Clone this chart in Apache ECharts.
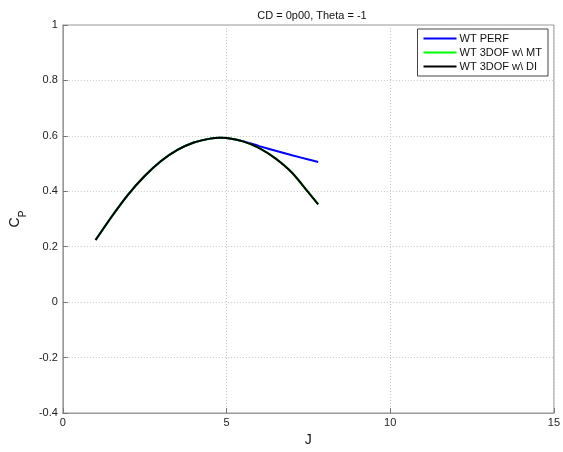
<!DOCTYPE html>
<html>
<head>
    <meta charset="utf-8">
    <title>CD = 0p00, Theta = -1</title>
    <script src="https://cdn.jsdelivr.net/npm/echarts@6/dist/echarts.min.js"></script>
    <style>
        html, body { margin: 0; padding: 0; background: #fff; }
        #chart1 { width: 563px; height: 452px; }
    </style>
</head>
<body>
<div id="chart1"></div>
<script>
    // J 值 (advance ratio)
    var jValues = [1.0, 1.5, 2.0, 2.5, 3.0, 3.5, 4.0, 4.5, 4.8, 5.0, 5.5, 6.0, 6.5, 7.0, 7.5, 7.8];
    // 三条曲线的 Cp
    var cpPerf = [0.224, 0.310, 0.389, 0.455, 0.509, 0.549, 0.576, 0.590, 0.593, 0.592, 0.581, 0.563, 0.546, 0.530, 0.515, 0.506];
    var cpMt   = [0.224, 0.310, 0.389, 0.455, 0.509, 0.549, 0.576, 0.590, 0.593, 0.592, 0.580, 0.556, 0.519, 0.468, 0.397, 0.354];
    var cpDi   = [0.224, 0.310, 0.389, 0.455, 0.509, 0.549, 0.576, 0.590, 0.593, 0.592, 0.580, 0.556, 0.518, 0.467, 0.396, 0.353];
    var seriesNames = ['WT PERF', 'WT 3DOF w\\ MT', 'WT 3DOF w\\ DI'];
    var seriesColors = ['#0000ff', '#00ff00', '#000000'];
    var xTicks = [0, 5, 10, 15];
    var yTicks = [-0.4, -0.2, 0, 0.2, 0.4, 0.6, 0.8, 1];

    function pairs(ys) {
        return jValues.map(function (x, i) { return [x, ys[i]]; });
    }

    var font = 'Liberation Sans, Arial, sans-serif';
    var myChart1 = echarts.init(document.getElementById('chart1'));
    var allCp = [cpPerf, cpMt, cpDi];

    myChart1.setOption({
        animation: false,
        title: {
            text: 'CD = 0p00, Theta = -1',
            left: 307,
            textAlign: 'center',
            top: 5,
            textStyle: { fontFamily: font, fontSize: 11, fontWeight: 'normal', color: '#111' }
        },
        legend: {
            orient: 'vertical',
            right: 15,
            top: 29,
            padding: [4, 6, 4, 6],
            itemGap: 3,
            itemWidth: 33,
            itemHeight: 2,
            icon: 'rect',
            borderColor: '#444',
            borderWidth: 1,
            backgroundColor: '#fff',
            textStyle: { fontFamily: font, fontSize: 11, color: '#111', padding: [0, 0, 0, -2] },
            data: seriesNames
        },
        grid: {
            left: 60, right: 8, top: 25, bottom: 34,
            show: true, borderColor: '#999', borderWidth: 1
        },
        xAxis: {
            type: 'value',
            min: xTicks[0], max: xTicks[xTicks.length - 1], interval: 5,
            name: 'J',
            nameLocation: 'middle',
            nameGap: 20,
            nameTextStyle: { fontFamily: font, fontSize: 14, color: '#111' },
            axisLine: { show: true, onZero: false, lineStyle: { color: '#999' } },
            axisTick: { show: true, inside: true, length: 5, lineStyle: { color: '#777' } },
            axisLabel: { fontFamily: font, fontSize: 11, color: '#222', margin: 4 },
            splitLine: { show: true, lineStyle: { color: '#c8c8c8', type: [1, 2] } }
        },
        yAxis: {
            type: 'value',
            min: yTicks[0], max: yTicks[yTicks.length - 1], interval: 0.2,
            name: '{c|C}{p|P}',
            nameLocation: 'middle',
            nameRotate: 90,
            nameGap: 34,
            nameTextStyle: {
                fontFamily: font, color: '#111',
                rich: {
                    c: { fontFamily: font, fontSize: 14, color: '#111', lineHeight: 20, verticalAlign: 'top' },
                    p: { fontFamily: font, fontSize: 10, color: '#111', lineHeight: 20, verticalAlign: 'bottom' }
                }
            },
            axisLine: { show: true, onZero: false, lineStyle: { color: '#999' } },
            axisTick: { show: true, inside: true, length: 5, lineStyle: { color: '#777' } },
            axisLabel: {
                fontFamily: font, fontSize: 11, color: '#222', margin: 5,
                formatter: function (v) { return String(Math.round(v * 10) / 10); }
            },
            splitLine: { show: true, lineStyle: { color: '#c8c8c8', type: [1, 2] } }
        },
        series: seriesNames.map(function (name, i) {
            return {
                name: name,
                type: 'line',
                data: pairs(allCp[i]),
                smooth: 0.3,
                showSymbol: false,
                color: seriesColors[i],
                lineStyle: { width: 2, color: seriesColors[i] },
                z: 2 + i
            };
        })
    });
</script>
</body>
</html>
